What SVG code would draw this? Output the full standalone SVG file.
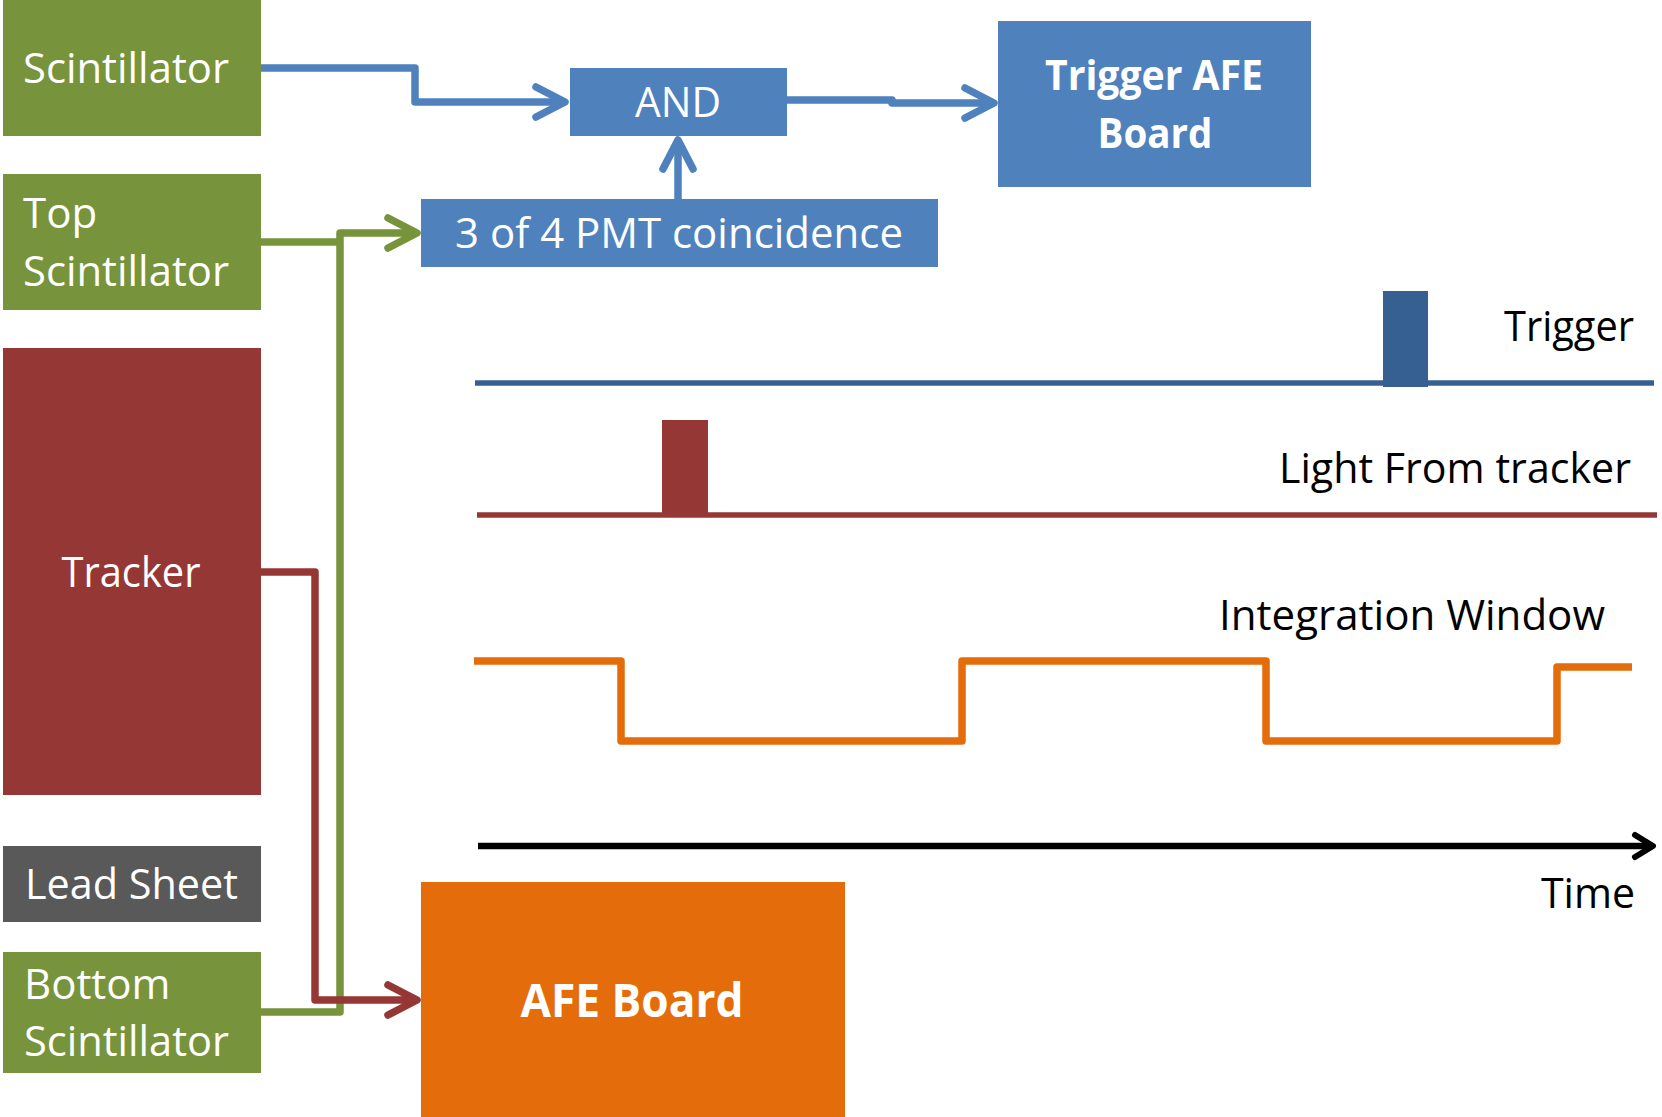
<svg xmlns="http://www.w3.org/2000/svg" width="1662" height="1117" viewBox="0 0 1662 1117">
<defs>
<style>
.t{font-family:"Open Sans","Noto Sans","Liberation Sans",sans-serif;font-size:42px}
.w{fill:#ffffff}
.k{fill:#000000}
.b{font-weight:bold}
.grn{fill:#77933C}
.blu{fill:#4F81BD}
.red{fill:#953735}
.gry{fill:#595959}
.org{fill:#E46C0A}
.c{fill:none;stroke-width:7.5;stroke-linejoin:round}
</style>
<marker id="ab" markerUnits="userSpaceOnUse" markerWidth="40" markerHeight="40" refX="0" refY="0" orient="auto" overflow="visible"><path d="M-29,-15 L0,0 L-29,15" fill="none" stroke="#4F81BD" stroke-width="7.5" stroke-linecap="round" stroke-linejoin="round"/></marker>
<marker id="ag" markerUnits="userSpaceOnUse" markerWidth="40" markerHeight="40" refX="0" refY="0" orient="auto" overflow="visible"><path d="M-29,-15 L0,0 L-29,15" fill="none" stroke="#77933C" stroke-width="7.5" stroke-linecap="round" stroke-linejoin="round"/></marker>
<marker id="ar" markerUnits="userSpaceOnUse" markerWidth="40" markerHeight="40" refX="0" refY="0" orient="auto" overflow="visible"><path d="M-29,-15 L0,0 L-29,15" fill="none" stroke="#953735" stroke-width="7.5" stroke-linecap="round" stroke-linejoin="round"/></marker>
<marker id="ak" markerUnits="userSpaceOnUse" markerWidth="30" markerHeight="30" refX="0" refY="0" orient="auto" overflow="visible"><path d="M-18,-11 L0,0 L-18,11" fill="none" stroke="#000000" stroke-width="6" stroke-linecap="round" stroke-linejoin="round"/></marker>
</defs>
<rect width="1662" height="1117" fill="#ffffff"/>

<g id="scintillator">
<rect class="grn" x="3" y="0" width="258" height="136"/>
<text class="t w" x="23" y="83" textLength="206" lengthAdjust="spacingAndGlyphs">Scintillator</text>
</g>
<g id="top-scintillator">
<rect class="grn" x="3" y="174" width="258" height="136"/>
<text class="t w" x="23" y="228">Top</text>
<text class="t w" x="23" y="286" textLength="206" lengthAdjust="spacingAndGlyphs">Scintillator</text>
</g>
<g id="tracker">
<rect class="red" x="3" y="348" width="258" height="447"/>
<text class="t w" x="131" y="587" text-anchor="middle" textLength="139" lengthAdjust="spacingAndGlyphs">Tracker</text>
</g>
<g id="lead-sheet">
<rect class="gry" x="3" y="846" width="258" height="76"/>
<text class="t w" x="25" y="899" textLength="213" lengthAdjust="spacingAndGlyphs">Lead Sheet</text>
</g>
<g id="bottom-scintillator">
<rect class="grn" x="3" y="952" width="258" height="121"/>
<text class="t w" x="24" y="999">Bottom</text>
<text class="t w" x="24" y="1056" textLength="205" lengthAdjust="spacingAndGlyphs">Scintillator</text>
</g>
<g id="and">
<rect class="blu" x="570" y="68" width="217" height="68"/>
<text class="t w" x="678" y="117" text-anchor="middle" textLength="86" lengthAdjust="spacingAndGlyphs">AND</text>
</g>
<g id="pmt-coincidence">
<rect class="blu" x="421" y="199" width="517" height="68"/>
<text class="t w" x="455" y="248" textLength="448" lengthAdjust="spacingAndGlyphs">3 of 4 PMT coincidence</text>
</g>
<g id="trigger-afe-board">
<rect class="blu" x="998" y="21" width="313" height="166"/>
<text class="t w b" x="1154" y="90" text-anchor="middle" textLength="218" lengthAdjust="spacingAndGlyphs">Trigger AFE</text>
<text class="t w b" x="1155" y="148" text-anchor="middle" textLength="115" lengthAdjust="spacingAndGlyphs">Board</text>
</g>
<g id="afe-board">
<rect class="org" x="421" y="882" width="424" height="235"/>
<text class="t w b" x="632" y="1017" text-anchor="middle" style="font-size:47px" textLength="223" lengthAdjust="spacingAndGlyphs">AFE Board</text>
</g>

<g id="connectors">
<path class="c" stroke="#4F81BD" d="M261,68 H415 V102 H565" marker-end="url(#ab)"/>
<path class="c" stroke="#4F81BD" d="M787,100 H892 V103 H994" marker-end="url(#ab)"/>
<path class="c" stroke="#4F81BD" d="M678,199 V140" marker-end="url(#ab)"/>
<path class="c" stroke="#77933C" d="M261,242 H340"/>
<path class="c" stroke="#77933C" d="M261,1012 H340 V233 H417" marker-end="url(#ag)"/>
<path class="c" stroke="#953735" d="M261,572 H315 V1000 H417" marker-end="url(#ar)"/>
</g>

<g id="timing">
<line x1="475" y1="383" x2="1654" y2="383" stroke="#376092" stroke-width="5.5"/>
<rect x="1383" y="291" width="45" height="96" fill="#376092"/>
<text class="t k" x="1504" y="341" textLength="130" lengthAdjust="spacingAndGlyphs">Trigger</text>
<line x1="477" y1="515" x2="1657" y2="515" stroke="#953735" stroke-width="5.5"/>
<rect x="662" y="420" width="46" height="95" fill="#953735"/>
<text class="t k" x="1279" y="483" textLength="352" lengthAdjust="spacingAndGlyphs">Light From tracker</text>
<text class="t k" x="1219" y="630" textLength="386" lengthAdjust="spacingAndGlyphs">Integration Window</text>
<path d="M474,661 H621 V741 H962 V661 H1266 V741 H1557 V667 H1632" fill="none" stroke="#E46C0A" stroke-width="7.5" stroke-linejoin="round"/>
<line x1="478" y1="846" x2="1653" y2="846" stroke="#000000" stroke-width="6.5" marker-end="url(#ak)"/>
<text class="t k" x="1541" y="908" textLength="94" lengthAdjust="spacingAndGlyphs">Time</text>
</g>
</svg>
